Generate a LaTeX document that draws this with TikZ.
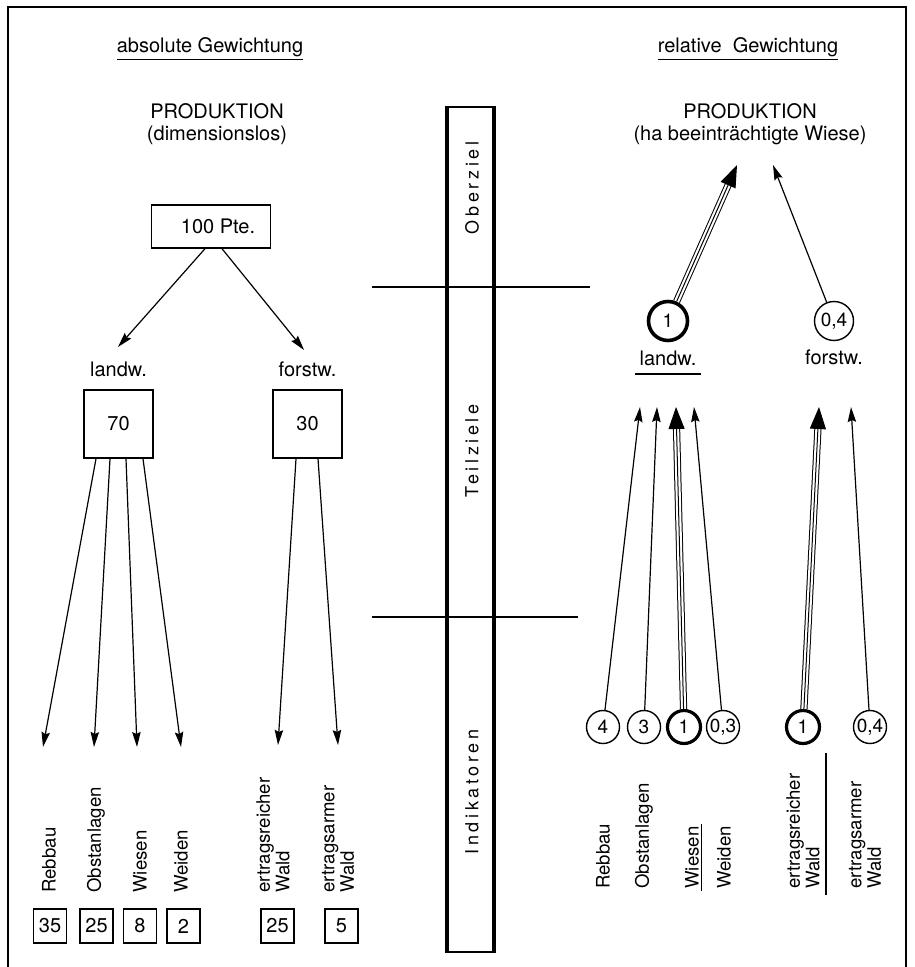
\documentclass[tikz,border=0pt]{standalone}
\usepackage{fontspec}
\setmainfont{TeX Gyre Heros}
\usetikzlibrary{positioning, arrows.meta}

\begin{document}
\begin{tikzpicture}[x=0.5pt, y=-0.5pt,
     node distance = 3mm and 3mm,
              font = \fontsize{10}{11}\selectfont,
        box/.style = {rectangle, draw, line width=.7pt, minimum width=59.5pt, minimum height=21.5pt},
       wbox/.style = {rectangle, draw, line width=.7pt, minimum width=34.5pt, minimum height=34pt},
       nbox/.style = {rectangle, draw, line width=.7pt, minimum width=16.5pt, minimum height=17pt, inner sep=1pt},
        ind/.style = {rotate=90, anchor=west, inner sep=1pt, align=left, font=\fontsize{9.3}{8.5}\selectfont},
        wgt/.style = {circle, draw, line width=.7pt, minimum size=16.5pt, inner sep=0pt, font=\fontsize{9.5}{10}\selectfont},
       bwgt/.style = {wgt, line width=1.6pt},
        arr/.style = {line width=.6pt, -{Stealth[length=7.5pt, width=4.2pt, inset=1pt]}},
        tri/.style = {line width=.5pt, -{Triangle[length=11pt, width=8pt]},
                      preaction={draw, arrows=-, double, double distance=2.6pt, shorten >=9pt}},
      level/.style = {rotate=90, font=\fontsize{9}{9}\selectfont\addfontfeature{LetterSpace=20}}
                        ]
\useasboundingbox (0,0) rectangle (914,967);
\draw[line width=.6pt] (8,967) -- (8,7) -- (906,7) -- (906,967);
% absolute Gewichtung
\node (absT) at (210,49) {\underline{absolute Gewichtung}};
\node (prodL)[align=center] at (217,124) {PRODUKTION\\(dimensionslos)};
\node (pts)[box] at (211,226.5) {\hspace*{7pt}100 Pte.};
\node (agri)[wbox] at (118.5,424) {70};
\node (forest)[wbox] at (307.5,424) {30};
\node (landL)[above=1mm of agri] {landw.};
\node (forstL)[above=1mm of forest] {forstw.};
\coordinate (aL) at (118,347);
\coordinate (aF) at (304,350);
\draw[arr] (pts.south -| 205,0) to (aL);
\draw[arr] (pts.south -| 222,0) to (aF);
\node (reb)  [ind] at (49,895) {Rebbau};
\node (obst) [ind] at (96,895) {Obstanlagen};
\node (wies) [ind] at (140,895) {Wiesen};
\node (weid) [ind] at (181,895) {Weiden};
\node (reich)[ind] at (273,895) {ertragsreicher\\Wald};
\node (arm)  [ind] at (338,895) {ertragsarmer\\Wald};
\coordinate (tReb)   at (43,747);
\coordinate (tObst)  at (94,747);
\coordinate (tWies)  at (137,747);
\coordinate (tWeid)  at (181,747);
\coordinate (tReich) at (278,745);
\coordinate (tArm)   at (338,745);
\draw[arr] (agri.south -| 96,0) to (tReb);
\draw[arr] (agri.south -| 110,0) to (tObst);
\draw[arr] (agri.south -| 126,0) to (tWies);
\draw[arr] (agri.south -| 143,0) to (tWeid);
\draw[arr] (forest.south -| 296,0) to (tReich);
\draw[arr] (forest.south -| 318,0) to (tArm);
\node (nReb)  [nbox] at (50,926) {35};
\node (nObst) [nbox] at (96.5,926) {25};
\node (nWies) [nbox] at (140,926) {8};
\node (nWeid) [nbox] at (183.5,926) {2};
\node (nReich)[nbox] at (277.5,926) {25};
\node (nArm)  [nbox] at (341.5,926) {5};
% Ebenen
\node (bar)[draw, line width=1pt, minimum width=22.5pt, minimum height=422.5pt] at (470.5,529.5) {};
\draw[line width=2pt] (bar.north west) -- (bar.south west);
\draw[line width=2pt] (bar.north east) -- (bar.south east);
\draw[line width=.7pt] (372,287) -- (590,287);
\draw[line width=.7pt] (372,617) -- (578,617);
\node (ober)[level] at (472,188) {Oberziel};
\node (teil)[level] at (472,451) {Teilziele};
\node (indi)[level] at (472,792) {Indikatoren};
% relative Gewichtung
\node (relT) at (748,49) {\underline{relative\ \ Gewichtung}};
\node (prodR)[align=center] at (750,124) {PRODUKTION\\(ha beeinträchtigte Wiese)};
\coordinate (tL) at (737,165);
\coordinate (tF) at (773,165);
\node (cL)[bwgt, minimum size=19.5pt, line width=1.8pt] at (668,321) {1};
\node (cF)[wgt, minimum size=19.5pt] at (834,321) {0,4};
\node (landR) [below=0pt of cL, inner xsep=2pt, inner ysep=4pt] {landw.};
\node (forstR)[below=0pt of cF, inner xsep=2pt, inner ysep=4pt] {forstw.};
\draw[line width=.7pt] (landR.south west) -- (landR.south east);
\draw[tri] (cL) to (tL);
\draw[arr] (cF) to (tF);
\node (wReb)  [wgt]  at (603,727) {4};
\node (wObst) [wgt]  at (644,727) {3};
\node (wWies) [bwgt] at (684,727) {1};
\node (wWeid) [wgt]  at (723,727) {0,3};
\node (wReich)[bwgt] at (803,727) {1};
\node (wArm)  [wgt]  at (870,727) {0,4};
\coordinate (uReb)   at (640,407);
\coordinate (uObst)  at (657,407);
\coordinate (uWies)  at (676,407);
\coordinate (uWeid)  at (694,407);
\coordinate (uReich) at (819,407);
\coordinate (uArm)   at (851,407);
\draw[arr] (wReb) to (uReb);
\draw[arr] (wObst) to (uObst);
\draw[tri] (wWies) to (uWies);
\draw[arr] (wWeid) to (uWeid);
\draw[tri] (wReich) to (uReich);
\draw[arr] (wArm) to (uArm);
\node (rReb)  [ind] at (603,891) {Rebbau};
\node (rObst) [ind] at (644,891) {Obstanlagen};
\node (rWies) [ind] at (692,891) {Wiesen};
\node (rWeid) [ind] at (724,891) {Weiden};
\node (rReich)[ind] at (803,891) {ertragsreicher\\Wald};
\node (rArm)  [ind] at (865,891) {ertragsarmer\\Wald};
\draw[line width=.7pt] (rWies.south west) -- (rWies.south east);
\draw[line width=.7pt] (826,895) -- (826,753);
\end{tikzpicture}
\end{document}
